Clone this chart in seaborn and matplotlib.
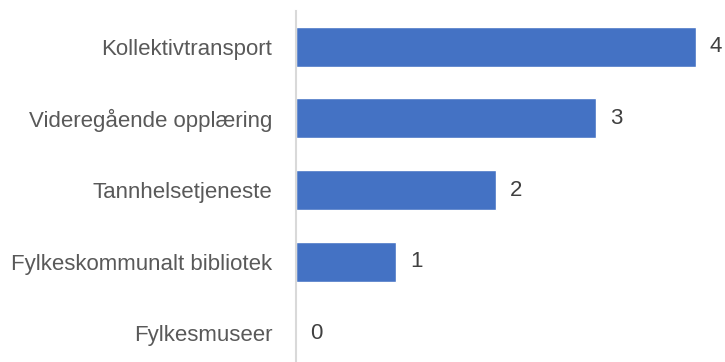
import matplotlib
matplotlib.use("Agg")
import matplotlib.pyplot as plt
import seaborn as sns
import pandas as pd

categories = ["Kollektivtransport", "Videregående opplæring", "Tannhelsetjeneste",
              "Fylkeskommunalt bibliotek", "Fylkesmuseer"]
values = [4, 3, 2, 1, 0]

sns.set_theme(style="white")
plt.rcParams["font.family"] = ["Liberation Sans", "DejaVu Sans"]

df = pd.DataFrame({"kategori": categories, "antall": values})

W, H = 725, 362
fig = plt.figure(figsize=(W / 100, H / 100), dpi=100)
left, right, top, bottom = 296, 696, 11, 369
ax = fig.add_axes([left / W, (H - bottom) / H, (right - left) / W, (bottom - top) / H])

sns.barplot(data=df, x="antall", y="kategori", color="#4472C4", width=0.56,
            saturation=1, ax=ax)

ax.set_xlim(0, 4)
ax.set_ylim(4.5, -0.5)
ax.set_xlabel("")
ax.set_ylabel("")
ax.set_xticks([])
for s in ["top", "right", "bottom"]:
    ax.spines[s].set_visible(False)
ax.spines["left"].set_color("#D9D9D9")
ax.spines["left"].set_linewidth(1.5)
ax.tick_params(axis="y", length=0, pad=17, labelsize=16, labelcolor="#595959")

for i, v in enumerate(values):
    ax.annotate(str(v), xy=(v, i), xytext=(10, 0), textcoords="offset points",
                va="center", ha="left", fontsize=16, color="#404040",
                annotation_clip=False)

fig.savefig("out.png", dpi=100)
